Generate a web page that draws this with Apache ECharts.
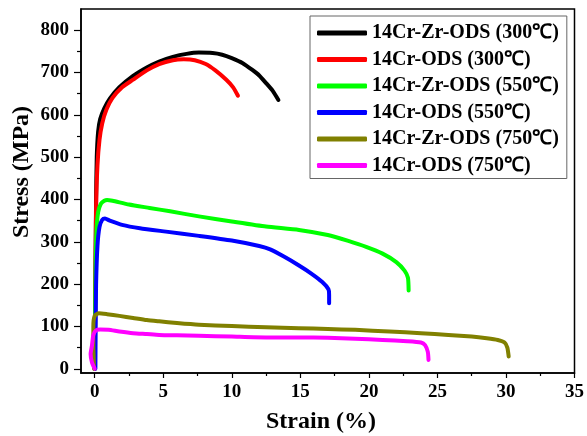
<!DOCTYPE html>
<html><head><meta charset="utf-8">
<script src="https://cdn.jsdelivr.net/npm/echarts@6/dist/echarts.min.js"></script>
<style>html,body{margin:0;padding:0;background:#fff}#c{width:587px;height:436px}</style>
</head><body><div id="c"></div>
<script>
const seriesNames = ['14Cr-Zr-ODS (300\u2103)','14Cr-ODS (300\u2103)','14Cr-Zr-ODS (550\u2103)','14Cr-ODS (550\u2103)','14Cr-Zr-ODS (750\u2103)','14Cr-ODS (750\u2103)'];
const colors = ['#000000','#ff0000','#00ff00','#0000ff','#808000','#ff00ff'];

const zr300X = [0,0.05,0.1,0.15,0.25,0.4,0.7,1.1,1.8,2.8,3.8,4.7,5.7,6.7,7.6,8.6,9.3,10.0,10.8,11.5,12.0,12.5,13.0,13.4];
const zr300Y = [0,200,400,500,560,590,615,638,665,692,712,726,737,744,747,746,742,734,722,706,693,675,656,635];

const cr300X = [0,0.05,0.1,0.2,0.35,0.55,0.85,1.3,2.0,2.8,3.8,4.7,5.7,6.5,7.3,8.1,8.8,9.6,10.1,10.45];
const cr300Y = [0,200,380,480,541,580,612,640,665,683,705,720,729,731,729,720,705,683,665,645];

const zr550X = [0,0.05,0.12,0.25,0.45,0.7,0.9,1.3,2.5,4.0,5.5,7.6,10.0,12.5,14.9,17.0,18.5,19.8,21.0,22.0,22.6,22.85,22.9];
const zr550Y = [0,200,320,370,390,397,399,397,388,380,372,360,348,336,328,316,302,288,272,252,232,215,185];

const cr550X = [0.05,0.07,0.1,0.2,0.35,0.55,0.75,1.1,2.0,3.3,5.2,7.6,10.0,12.0,12.8,13.8,14.9,15.8,16.6,17.05,17.1,17.1];
const cr550Y = [0,100,200,290,335,352,355,350,340,332,324,314,303,290,282,265,244,225,205,188,175,155];

const zr750X = [-0.05,-0.1,-0.1,0,0.3,0.9,1.8,2.8,3.8,4.7,6.0,7.6,10.0,12.5,14.9,17.0,19.0,21.5,23.8,25.8,27.5,28.6,29.4,29.9,30.1,30.2];
const zr750Y = [0,60,100,125,131,129,125,120,115,112,108,104,101,98,96,94,92,88,84,80,76,72,68,62,50,29];

const cr750X = [0,-0.2,-0.3,-0.2,-0.1,0.1,0.4,1.0,1.8,2.8,3.8,4.7,6.0,7.6,10.0,12.5,14.9,17.0,19.0,21.0,22.8,23.8,24.1,24.3,24.35];
const cr750Y = [0,15,35,55,80,91,93,92,88,84,82,80,79,78,76,74,74,73,71,68,65,62,56,40,21];

const xMajorTicks = [0,5,10,15,20,25,30,35];
const xMinorTicks = [2.5,7.5,12.5,17.5,22.5,27.5,32.5];
const yMajorTicks = [0,100,200,300,400,500,600,700,800];
const yMinorTicks = [50,150,250,350,450,550,650,750];

const xs = [zr300X,cr300X,zr550X,cr550X,zr750X,cr750X];
const ys = [zr300Y,cr300Y,zr550Y,cr550Y,zr750Y,cr750Y];

const FONT = '"Liberation Serif","Times New Roman",serif';
const chart = echarts.init(document.getElementById('c'));
const grid = {left:81, right:11, top:9, bottom:63, show:true, borderColor:'#000', borderWidth:1.5, containLabel:false};
const baseX = {type:'value', min:-1, max:35, gridIndex:0, position:'bottom', splitLine:{show:false}};
const baseY = {type:'value', min:-10, max:850, gridIndex:0, position:'left', splitLine:{show:false}};
chart.setOption({
  animation:false,
  backgroundColor:'#fff',
  grid: grid,
  xAxis:[
    Object.assign({}, baseX, {
      axisLine:{show:true, onZero:false, lineStyle:{color:'#000', width:1.5}},
      axisTick:{show:true, customValues:xMajorTicks, length:5, lineStyle:{color:'#000', width:1.2}},
      axisLabel:{show:true, customValues:xMajorTicks, margin:10, color:'#000', fontFamily:FONT, fontWeight:'bold', fontSize:19}
    }),
    Object.assign({}, baseX, {
      axisLine:{show:false, onZero:false},
      axisTick:{show:true, customValues:xMinorTicks, length:3, lineStyle:{color:'#000', width:1.2}},
      axisLabel:{show:false}
    })
  ],
  yAxis:[
    Object.assign({}, baseY, {
      axisLine:{show:true, onZero:false, lineStyle:{color:'#000', width:1.5}},
      axisTick:{show:true, customValues:yMajorTicks, length:7, lineStyle:{color:'#000', width:1.2}},
      axisLabel:{show:true, customValues:yMajorTicks, margin:12, color:'#000', fontFamily:FONT, fontWeight:'bold', fontSize:19}
    }),
    Object.assign({}, baseY, {
      axisLine:{show:false, onZero:false},
      axisTick:{show:true, customValues:yMinorTicks, length:4, lineStyle:{color:'#000', width:1.2}},
      axisLabel:{show:false}
    })
  ],
  legend:{
    orient:'vertical', left:310, top:16, padding:[7,8,3,7],
    borderColor:'#666', borderWidth:1, backgroundColor:'#fff',
    itemWidth:50, itemHeight:5, itemGap:6.5, icon:'roundRect',
    textStyle:{color:'#000', fontFamily:FONT, fontWeight:'bold', fontSize:20, lineHeight:20},
    data: seriesNames
  },
  graphic:[
    {type:'text', x:321, y:422, style:{text:'Strain (%)', x:0, y:0, align:'center', verticalAlign:'middle', fill:'#000', font:'bold 24px '+FONT}, z:10},
    {type:'text', x:22, y:172, rotation:Math.PI/2, style:{text:'Stress (MPa)', x:0, y:0, align:'center', verticalAlign:'middle', fill:'#000', font:'bold 24px '+FONT}, z:10}
  ],
  series: seriesNames.map((n,i)=>({
    name:n, type:'line', xAxisIndex:0, yAxisIndex:0, showSymbol:false, symbol:'none',
    smooth:0.2, lineStyle:{color:colors[i], width:4, cap:'round', join:'round'}, itemStyle:{color:colors[i]},
    data: xs[i].map((x,k)=>[x, ys[i][k]])
  }))
});
</script></body></html>
